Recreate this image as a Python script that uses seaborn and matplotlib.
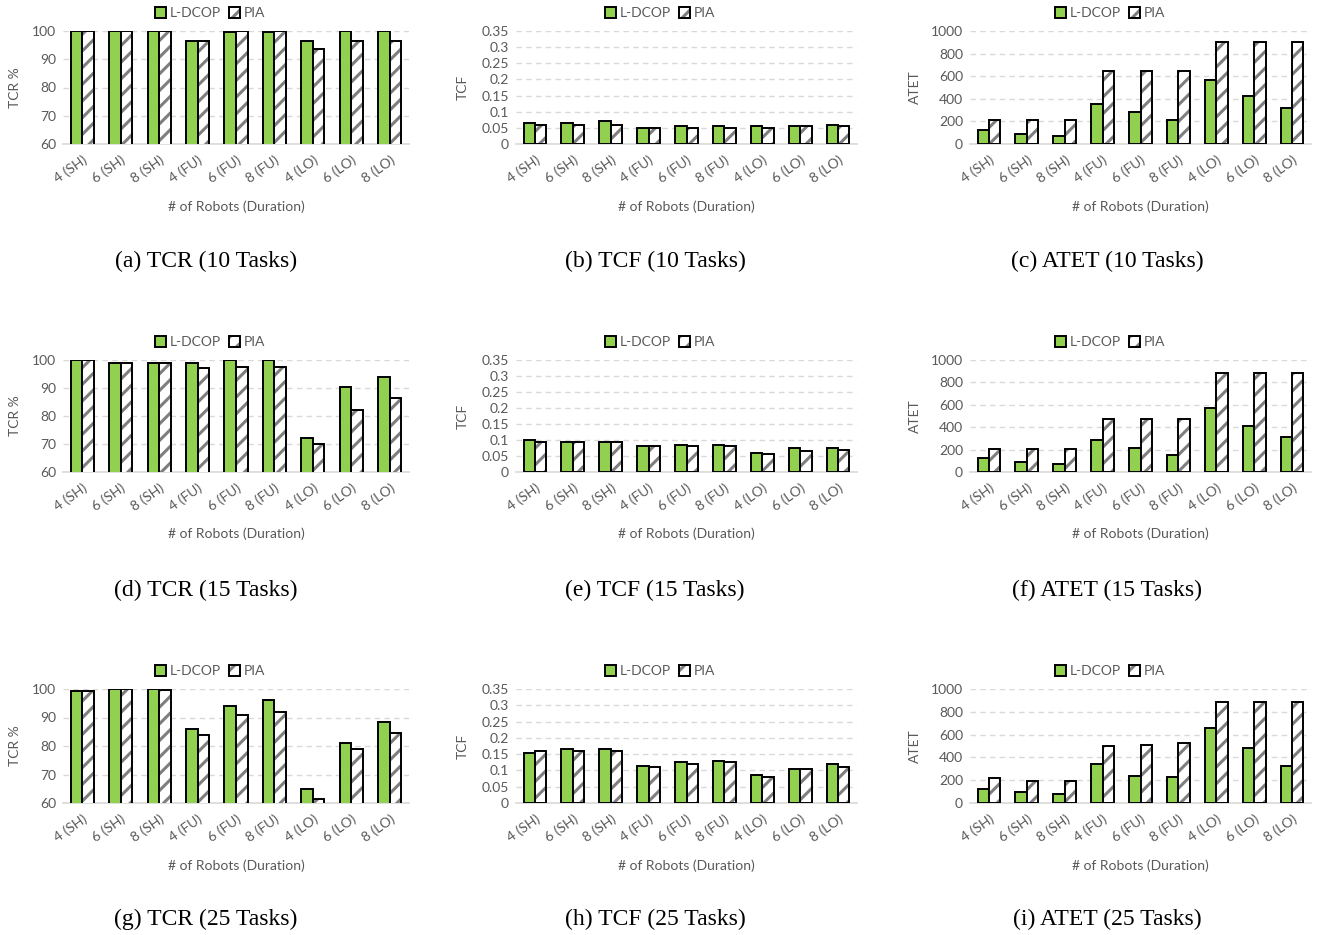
import matplotlib
matplotlib.use("Agg")
import matplotlib.pyplot as plt
import seaborn as sns
import pandas as pd

# ---------------- data ----------------
categories = ['4 (SH)', '6 (SH)', '8 (SH)', '4 (FU)', '6 (FU)', '8 (FU)',
              '4 (LO)', '6 (LO)', '8 (LO)']
methods = ['L-DCOP', 'PIA']

tcr10_ldcop = [100, 100, 100, 96.5, 99.5, 99.5, 96.5, 100, 100]
tcr10_pia = [100, 100, 100, 96.5, 100, 100, 93.5, 96.5, 96.5]
tcf10_ldcop = [0.065, 0.065, 0.07, 0.05, 0.055, 0.055, 0.055, 0.055, 0.06]
tcf10_pia = [0.06, 0.06, 0.06, 0.05, 0.05, 0.05, 0.05, 0.055, 0.055]
atet10_ldcop = [126, 85, 70, 356, 285, 212, 570, 426, 315]
atet10_pia = [213, 213, 213, 645, 645, 645, 900, 900, 900]

tcr15_ldcop = [100, 98.8, 98.8, 98.8, 100, 100, 72, 90.5, 94]
tcr15_pia = [100, 98.8, 98.8, 97, 97.5, 97.5, 70, 82, 86.5]
tcf15_ldcop = [0.1, 0.095, 0.095, 0.08, 0.085, 0.085, 0.06, 0.075, 0.075]
tcf15_pia = [0.095, 0.095, 0.095, 0.08, 0.08, 0.08, 0.055, 0.065, 0.07]
atet15_ldcop = [129, 85, 71, 285, 215, 156, 571, 412, 315]
atet15_pia = [205, 205, 205, 470, 470, 470, 887, 887, 887]

tcr25_ldcop = [99.3, 100, 100, 86, 94, 96.3, 65, 81, 88.5]
tcr25_pia = [99.3, 100, 99.5, 83.8, 90.8, 91.8, 61.5, 78.8, 84.5]
tcf25_ldcop = [0.155, 0.165, 0.165, 0.115, 0.125, 0.13, 0.085, 0.105, 0.12]
tcf25_pia = [0.16, 0.16, 0.16, 0.11, 0.12, 0.125, 0.08, 0.105, 0.11]
atet25_ldcop = [126, 94, 82, 338, 241, 226, 656, 482, 324]
atet25_pia = [215, 197, 197, 497, 512, 526, 885, 885, 885]

tcr_ticks = [60, 70, 80, 90, 100]
tcf_ticks = [0, 0.05, 0.1, 0.15, 0.2, 0.25, 0.3, 0.35]
atet_ticks = [0, 200, 400, 600, 800, 1000]
tcr_labels = ['60', '70', '80', '90', '100']
tcf_labels = ['0', '0.05', '0.1', '0.15', '0.2', '0.25', '0.3', '0.35']
atet_labels = ['0', '200', '400', '600', '800', '1000']

captions = [
    ['(a) TCR (10 Tasks)', '(b) TCF (10 Tasks)', '(c) ATET (10 Tasks)'],
    ['(d) TCR (15 Tasks)', '(e) TCF (15 Tasks)', '(f) ATET (15 Tasks)'],
    ['(g) TCR (25 Tasks)', '(h) TCF (25 Tasks)', '(i) ATET (25 Tasks)'],
]

panels = [
    [(tcr10_ldcop, tcr10_pia), (tcf10_ldcop, tcf10_pia), (atet10_ldcop, atet10_pia)],
    [(tcr15_ldcop, tcr15_pia), (tcf15_ldcop, tcf15_pia), (atet15_ldcop, atet15_pia)],
    [(tcr25_ldcop, tcr25_pia), (tcf25_ldcop, tcf25_pia), (atet25_ldcop, atet25_pia)],
]
col_info = [
    ('TCR %', (60, 100), tcr_ticks, tcr_labels),
    ('TCF', (0, 0.35), tcf_ticks, tcf_labels),
    ('ATET', (0, 1000), atet_ticks, atet_labels),
]

# ---------------- style ----------------
sns.set_theme(style="white")
plt.rcParams['font.family'] = ['Lato', 'DejaVu Sans']
plt.rcParams['hatch.linewidth'] = 2.2

GREEN = '#92D050'
HATCH_GRAY = '#7F7F7F'
TEXT_GRAY = '#595959'
GRID_GRAY = '#D9D9D9'

W, H = 1319, 935
fig = plt.figure(figsize=(W / 100, H / 100), dpi=100)

col_x = [(63, 409), (516, 857), (970, 1311)]
row_y = [(31, 144), (360, 472), (689, 803)]
caption_x = [206, 655, 1107]
caption_y = [261, 590, 919]
legend_y = [13, 342, 671]
legend_x = [210, 660, 1110]
ylabel_x = [21, 469, 921]

for r in range(3):
    for c in range(3):
        x0, x1 = col_x[c]
        yt, yb = row_y[r]
        ax = fig.add_axes([x0 / W, 1 - yb / H, (x1 - x0) / W, (yb - yt) / H])
        ld, pi = panels[r][c]
        df = pd.DataFrame({
            'cat': categories * 2,
            'method': [methods[0]] * len(categories) + [methods[1]] * len(categories),
            'val': list(ld) + list(pi),
        })
        sns.barplot(data=df, x='cat', y='val', hue='method', order=categories,
                    hue_order=methods, palette={'L-DCOP': GREEN, 'PIA': 'white'},
                    saturation=1, width=0.6, edgecolor='black', linewidth=1.4,
                    errorbar=None, legend=False, ax=ax, zorder=3)
        for p in ax.containers[1]:
            p.set_hatch('//')
            try:
                p.set_hatchcolor(HATCH_GRAY)
            except AttributeError:
                p._hatch_color = matplotlib.colors.to_rgba(HATCH_GRAY)

        ylab, ylim, ticks, labels = col_info[c]
        ax.set_ylim(*ylim)
        ax.set_xlim(-0.5, len(categories) - 0.5)
        ax.set_yticks(ticks)
        ax.set_yticklabels(labels)
        ax.yaxis.grid(True, linestyle=(0, (4, 3)), color=GRID_GRAY, linewidth=1, zorder=0)
        ax.set_axisbelow(True)
        for s in ['top', 'right', 'left']:
            ax.spines[s].set_visible(False)
        ax.spines['bottom'].set_color(GRID_GRAY)
        ax.spines['bottom'].set_linewidth(1.2)
        ax.tick_params(axis='both', length=0, labelsize=10, colors=TEXT_GRAY)
        ax.tick_params(axis='x', pad=7)
        ax.tick_params(axis='y', pad=5)
        plt.setp(ax.get_xticklabels(), rotation=35, ha='right', rotation_mode='anchor')
        ax.set_ylabel(ylab, fontsize=10, color=TEXT_GRAY)
        ax.yaxis.set_label_coords((ylabel_x[c] - x0) / (x1 - x0), 0.5)
        ax.set_xlabel('# of Robots (Duration)', fontsize=10, color=TEXT_GRAY)
        ax.xaxis.set_label_coords(0.5, -(200 - 144) / (144 - 31))

        leg = ax.legend([ax.containers[0][0], ax.containers[1][0]], methods,
                        loc='center', bbox_to_anchor=(legend_x[c] / W, 1 - legend_y[r] / H),
                        bbox_transform=fig.transFigure, ncol=2, frameon=False,
                        fontsize=10, handlelength=0.8, handleheight=0.8,
                        handletextpad=0.25, columnspacing=0.6, borderpad=0)
        for t in leg.get_texts():
            t.set_color(TEXT_GRAY)

        fig.text(caption_x[c] / W, 1 - caption_y[r] / H, captions[r][c],
                 ha='center', va='center', fontsize=17,
                 family=['Liberation Serif', 'DejaVu Serif'], color='black')

fig.savefig('out.png', dpi=100)
